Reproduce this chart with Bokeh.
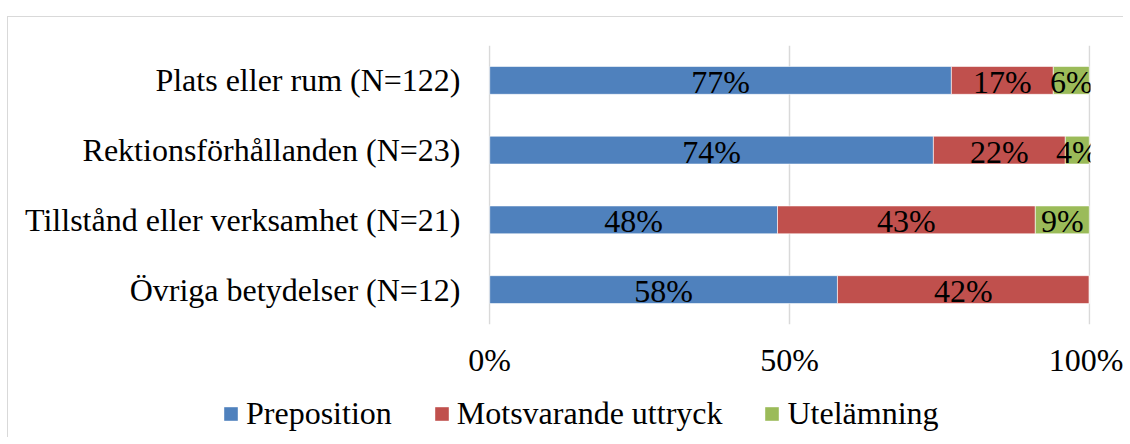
import numpy as np
from bokeh.plotting import figure
from bokeh.layouts import column
from bokeh.models import (ColumnDataSource, FactorRange, Range1d, FixedTicker,
                          NumeralTickFormatter, Legend, LegendItem)
from bokeh.core.properties import value
from bokeh.embed import file_html
from bokeh.resources import INLINE

categories = ["Plats eller rum (N=122)", "Rektionsförhållanden (N=23)",
              "Tillstånd eller verksamhet (N=21)", "Övriga betydelser (N=12)"]
series = ["Preposition", "Motsvarande uttryck", "Utelämning"]
preposition = [77, 74, 48, 58]
motsvarande = [17, 22, 43, 42]
utelamning = [6, 4, 9, 0]
colors = ["#4F81BD", "#C0504D", "#9BBB59"]
x_ticks = [0, 0.5, 1.0]

FONT = "Liberation Serif"

data = {"cat": categories,
        series[0]: [v / 100 for v in preposition],
        series[1]: [v / 100 for v in motsvarande],
        series[2]: [v / 100 for v in utelamning]}
src = ColumnDataSource(data)

p = figure(width=1115, height=375, output_backend="svg", toolbar_location=None,
           y_range=FactorRange(factors=list(reversed(categories)), range_padding=0),
           x_range=Range1d(-0.002, 1.002),
           min_border_left=480, min_border_right=33, min_border_top=28,
           min_border_bottom=68)
p.frame_align = False
p.outline_line_color = None
p.background_fill_color = "white"
p.border_fill_color = "white"

renderers = p.hbar_stack(series, y="cat", height=0.4, color=colors, source=src,
                         line_color="white", line_width=0.6)

# labels
vals = np.array([preposition, motsvarande, utelamning], dtype=float) / 100
lefts = np.vstack([np.zeros(len(categories)), np.cumsum(vals, axis=0)[:-1]])
lx, ly, lt = [], [], []
for s in range(3):
    for i, c in enumerate(categories):
        if vals[s, i] > 0:
            lx.append(lefts[s, i] + vals[s, i] / 2)
            ly.append(c)
            lt.append(f"{int(round(vals[s, i] * 100))}%")
p.text(x=lx, y=ly, text=lt, text_align="center", text_baseline="middle",
       text_font=value(FONT), text_font_size="32px", text_color="black", y_offset=1.5)

# axes
p.xaxis.ticker = FixedTicker(ticks=x_ticks)
p.xaxis.formatter = NumeralTickFormatter(format="0%")
for ax in (p.xaxis[0], p.yaxis[0]):
    ax.axis_line_color = None
    ax.major_tick_line_color = None
    ax.minor_tick_line_color = None
    ax.major_tick_out = 0
    ax.major_tick_in = 0
    ax.major_label_text_font = FONT
    ax.major_label_text_font_size = "32px"
    ax.major_label_text_color = "black"
p.xaxis.major_label_standoff = 17
p.yaxis.major_label_standoff = 28

p.xgrid.ticker = FixedTicker(ticks=x_ticks)
p.xgrid.grid_line_color = "#d9d9d9"
p.xgrid.grid_line_width = 1.5
p.ygrid.grid_line_color = None

# legend strip below the chart
p2 = figure(width=1115, height=45, output_backend="svg", toolbar_location=None,
            x_range=Range1d(0, 1), y_range=Range1d(0, 1),
            x_axis_location=None, y_axis_location=None,
            min_border=0, min_border_left=0, min_border_right=0,
            min_border_top=0, min_border_bottom=0)
p2.frame_align = False
p2.outline_line_color = None
p2.grid.grid_line_color = None
p2.border_fill_color = "white"
# zero-size swatch renderers (only used to draw the legend glyphs)
leg_r = [p2.hbar(y=[0.5], left=[0], right=[0], height=0, fill_color=colors[i],
                 line_color=None) for i in range(3)]
legend = Legend(items=[LegendItem(label=series[i], renderers=[leg_r[i]]) for i in range(3)],
                orientation="horizontal", location=(214, 5),
                glyph_width=17, glyph_height=17, label_standoff=7, spacing=41,
                padding=0, margin=0, border_line_alpha=0, background_fill_alpha=0,
                label_text_font=FONT, label_text_font_size="32px",
                label_text_color="black")
p2.add_layout(legend, "center")

layout = column(p, p2, spacing=0)
layout.styles = {"margin-top": "16px", "margin-left": "7px",
                 "border-top": "1px solid #d9d9d9", "border-left": "1px solid #d9d9d9"}

open("out.html", "w").write(file_html(layout, INLINE))
